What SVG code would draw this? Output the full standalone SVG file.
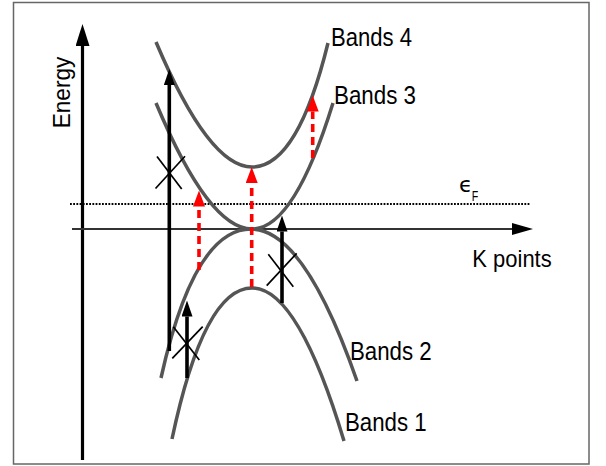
<svg xmlns="http://www.w3.org/2000/svg" width="606" height="466" viewBox="0 0 606 466">
<style>
.band{fill:none;stroke:#555;stroke-width:3.5;stroke-linecap:butt}
.blk{stroke:#000;stroke-width:3.6;fill:none}
.red{stroke:#f00;stroke-width:3.6;fill:none;stroke-dasharray:8 5}
.x{stroke:#000;stroke-width:1.7}
.lbl{font-family:"Liberation Sans",Arial,sans-serif;font-size:26px;fill:#000}
</style>
<defs>
<marker id="ah" viewBox="0 0 16 11" markerWidth="16" markerHeight="11" refX="0" refY="5.5" orient="auto" markerUnits="userSpaceOnUse"><path d="M0,0 L16,5.5 L0,11 z" fill="#000"/></marker>
<marker id="rh" viewBox="0 0 16 12" markerWidth="16" markerHeight="12" refX="0" refY="6" orient="auto" markerUnits="userSpaceOnUse"><path d="M0,0 L16,6 L0,12 z" fill="#f00"/></marker>
<marker id="axv" viewBox="0 0 22 14" markerWidth="22" markerHeight="14" refX="0" refY="7" orient="auto" markerUnits="userSpaceOnUse"><path d="M0,0 L22,7 L0,14 z" fill="#000"/></marker>
<marker id="axh" viewBox="0 0 21 12" markerWidth="21" markerHeight="12" refX="0" refY="6" orient="auto" markerUnits="userSpaceOnUse"><path d="M0,0 L21,6 L0,12 z" fill="#000"/></marker>
</defs>
<rect x="13.5" y="2.5" width="575.5" height="461.5" fill="#fff" stroke="#666" stroke-width="1.5"/>
<g id="axes">
<line x1="82.5" y1="460" x2="82.5" y2="46" stroke="#000" stroke-width="3.2" marker-end="url(#axv)"/>
<line x1="72" y1="229" x2="512" y2="229" stroke="#333" stroke-width="1.8" marker-end="url(#axh)"/>
<line x1="70" y1="204" x2="530" y2="204" stroke="#000" stroke-width="2" stroke-dasharray="1.8 1.4"/>
</g>
<g id="band4"><path class="band" d="M156,42 Q208.8,167 252,167 Q297.6,167 328,43"/></g>
<g id="band3"><path class="band" d="M156,103 Q208.8,229 252,229 Q294,229 333,103"/></g>
<g id="band2"><path class="band" d="M161,378 Q194,229 251,229 Q304,229 357,381"/></g>
<g id="band1"><path class="band" d="M172,439 Q204,288 252,288 Q298,288 344,441"/></g>
<g id="connectors">
<line class="blk" x1="169.3" y1="351" x2="169.3" y2="85" marker-end="url(#ah)"/>
<line class="blk" x1="187" y1="378" x2="187" y2="316.5" marker-end="url(#ah)"/>
<line class="blk" x1="282" y1="303" x2="282" y2="231.5" marker-end="url(#ah)"/>
<line class="red" x1="199" y1="270" x2="199" y2="206.5" marker-end="url(#rh)"/>
<line class="red" x1="251.7" y1="287" x2="251.7" y2="183" marker-end="url(#rh)"/>
<line class="red" x1="312.7" y1="158" x2="312.7" y2="111.5" marker-end="url(#rh)"/>
</g>
<g id="crosses">
<line class="x" x1="157" y1="156.5" x2="181.7" y2="189"/>
<line class="x" x1="155.5" y1="188.5" x2="185" y2="156.3"/>
<line class="x" x1="173.3" y1="326.7" x2="199.3" y2="360"/>
<line class="x" x1="172.3" y1="358.3" x2="202.7" y2="326.7"/>
<line class="x" x1="268.3" y1="254.3" x2="293.3" y2="286.7"/>
<line class="x" x1="266.7" y1="285.7" x2="296.7" y2="253.3"/>
</g>
<g id="labels">
<text class="lbl" x="331" y="46" textLength="81" lengthAdjust="spacingAndGlyphs">Bands 4</text>
<text class="lbl" x="334" y="104" textLength="82" lengthAdjust="spacingAndGlyphs">Bands 3</text>
<text class="lbl" x="350" y="360" textLength="81.7" lengthAdjust="spacingAndGlyphs">Bands 2</text>
<text class="lbl" x="345" y="430.7" textLength="81.7" lengthAdjust="spacingAndGlyphs">Bands 1</text>
<text class="lbl" x="472.3" y="266.7" style="font-size:24.5px" textLength="79.4" lengthAdjust="spacingAndGlyphs">K points</text>
<text class="lbl" transform="translate(70,128.3) rotate(-90)" x="0" y="0" style="font-size:24.5px" textLength="71.6" lengthAdjust="spacingAndGlyphs">Energy</text>
<text x="459" y="192" style="font-family:'DejaVu Sans',sans-serif;font-size:22px" fill="#000">ϵ</text>
<text x="471.7" y="200.7" style="font-family:'Liberation Sans',Arial,sans-serif;font-size:14px" fill="#000" textLength="6.5" lengthAdjust="spacingAndGlyphs">F</text>
</g>
</svg>
